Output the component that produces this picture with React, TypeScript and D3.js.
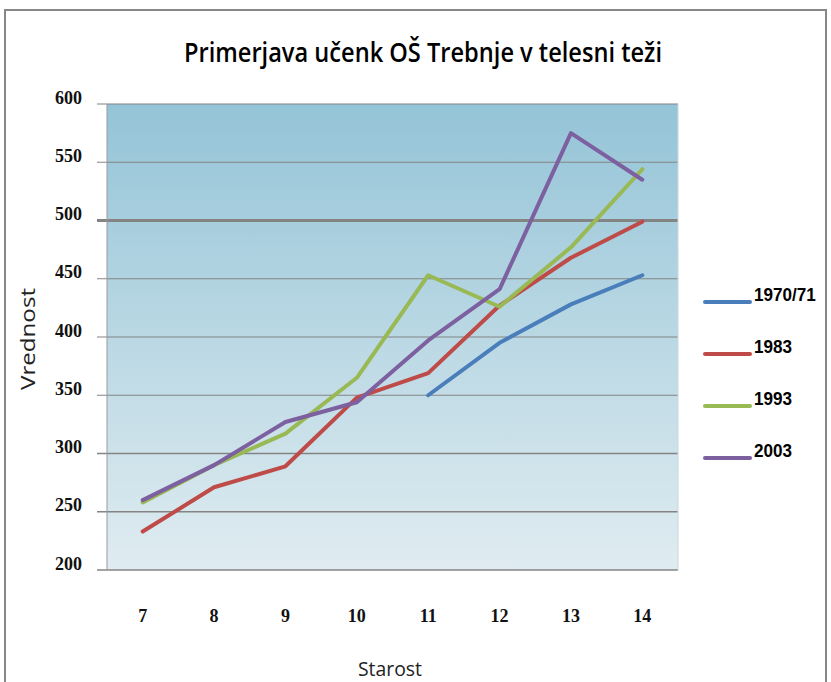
import React from "react";
import * as d3 from "d3";

const categories = ["7", "8", "9", "10", "11", "12", "13", "14"];
const seriesNames = ["1970/71", "1983", "1993", "2003"];
const s1970: (number | null)[] = [null, null, null, null, 350, 395, 428, 453];
const s1983: (number | null)[] = [233, 271, 289, 348, 369, 427, 468, 499];
const s1993: (number | null)[] = [258, 290, 317, 365, 453, 426, 477, 544];
const s2003: (number | null)[] = [260, 290, 327, 344, 397, 441, 575, 535];
const yTicks = [200, 250, 300, 350, 400, 450, 500, 550, 600];
const colors = ["#4a7ebb", "#be4b48", "#98b954", "#7d60a0"];

const allSeries = [s1970, s1983, s1993, s2003];

const W = 831;
const H = 682;
const L = 107, R = 678, T = 104, B = 570;

const serif = "'Liberation Serif', 'DejaVu Serif', serif";
const sans = "'Open Sans', 'Liberation Sans', sans-serif";

export default function App() {
  const x = d3.scalePoint<string>().domain(categories).range([L, R]).padding(0.5);
  const y = d3.scaleLinear().domain([200, 600]).range([B, T]);
  const line = d3
    .line<number | null>()
    .defined((d) => d != null)
    .x((_, i) => x(categories[i]) as number)
    .y((d) => y(d as number));

  const gridWidth = (t: number) => (t === 500 ? 3 : t === 300 || t === 250 ? 1.6 : 1.1);

  return (
    <svg
      width={W}
      height={H}
      style={{ position: "absolute", left: 0, top: 0, background: "#fff" }}
    >
      <defs>
        <linearGradient id="bg" x1="0" y1="0" x2="0" y2="1">
          <stop offset="0%" stopColor="#94c4d7" />
          <stop offset="100%" stopColor="#e0ecf1" />
        </linearGradient>
      </defs>
      {/* outer border */}
      <rect x={5} y={10} width={821} height={690} fill="#fff" stroke="#878787" strokeWidth={2} />
      {/* title */}
      <text
        x={423}
        y={62}
        textAnchor="middle"
        fontFamily={sans}
        fontWeight={600}
        fontSize={27}
        fill="#000"
        textLength={478}
        lengthAdjust="spacingAndGlyphs"
      >
        Primerjava učenk OŠ Trebnje v telesni teži
      </text>
      {/* plot background */}
      <rect x={L} y={T} width={R - L} height={B - T} fill="url(#bg)" />
      {/* gridlines and ticks */}
      {yTicks.map((t) => (
        <g key={t}>
          <line
            x1={L - 10}
            x2={R}
            y1={y(t)}
            y2={y(t)}
            stroke="#848484"
            strokeWidth={t === 200 ? 1.3 : gridWidth(t)}
          />
          <text
            x={82}
            y={y(t) - 0.5}
            textAnchor="end"
            fontFamily={serif}
            fontWeight="bold"
            fontSize={18}
            fill="#111"
          >
            {t}
          </text>
        </g>
      ))}
      <line x1={L} x2={L} y1={T} y2={B} stroke="#9a9a9a" strokeWidth={1} />
      <line x1={R} x2={R} y1={T} y2={B} stroke="#c8d8e0" strokeWidth={1} />
      {/* x tick labels */}
      {categories.map((c) => (
        <text
          key={c}
          x={x(c) as number}
          y={622}
          textAnchor="middle"
          fontFamily={serif}
          fontWeight="bold"
          fontSize={18}
          fill="#111"
        >
          {c}
        </text>
      ))}
      {/* axis titles */}
      <text
        x={390}
        y={676}
        textAnchor="middle"
        fontFamily={sans}
        fontSize={20}
        fill="#222"
        textLength={64}
        lengthAdjust="spacingAndGlyphs"
      >
        Starost
      </text>
      <text
        transform={`translate(35,339) rotate(-90)`}
        textAnchor="middle"
        fontFamily={sans}
        fontSize={20}
        fill="#222"
        textLength={102}
        lengthAdjust="spacingAndGlyphs"
      >
        Vrednost
      </text>
      {/* series */}
      {allSeries.map((s, i) => (
        <path
          key={seriesNames[i]}
          d={line(s) || ""}
          fill="none"
          stroke={colors[i]}
          strokeWidth={4}
          strokeLinejoin="round"
          strokeLinecap="round"
        />
      ))}
      {/* legend */}
      {seriesNames.map((n, i) => {
        const ly = 302 + i * 52;
        return (
          <g key={n}>
            <line x1={705} x2={750} y1={ly} y2={ly} stroke={colors[i]} strokeWidth={4} strokeLinecap="round" />
            <text
              transform={`translate(754,${ly - 1}) scale(0.9,1)`}
              fontFamily="'Liberation Sans', Arial, sans-serif"
              fontWeight="bold"
              fontSize={19}
              fill="#000"
            >
              {n}
            </text>
          </g>
        );
      })}
    </svg>
  );
}
